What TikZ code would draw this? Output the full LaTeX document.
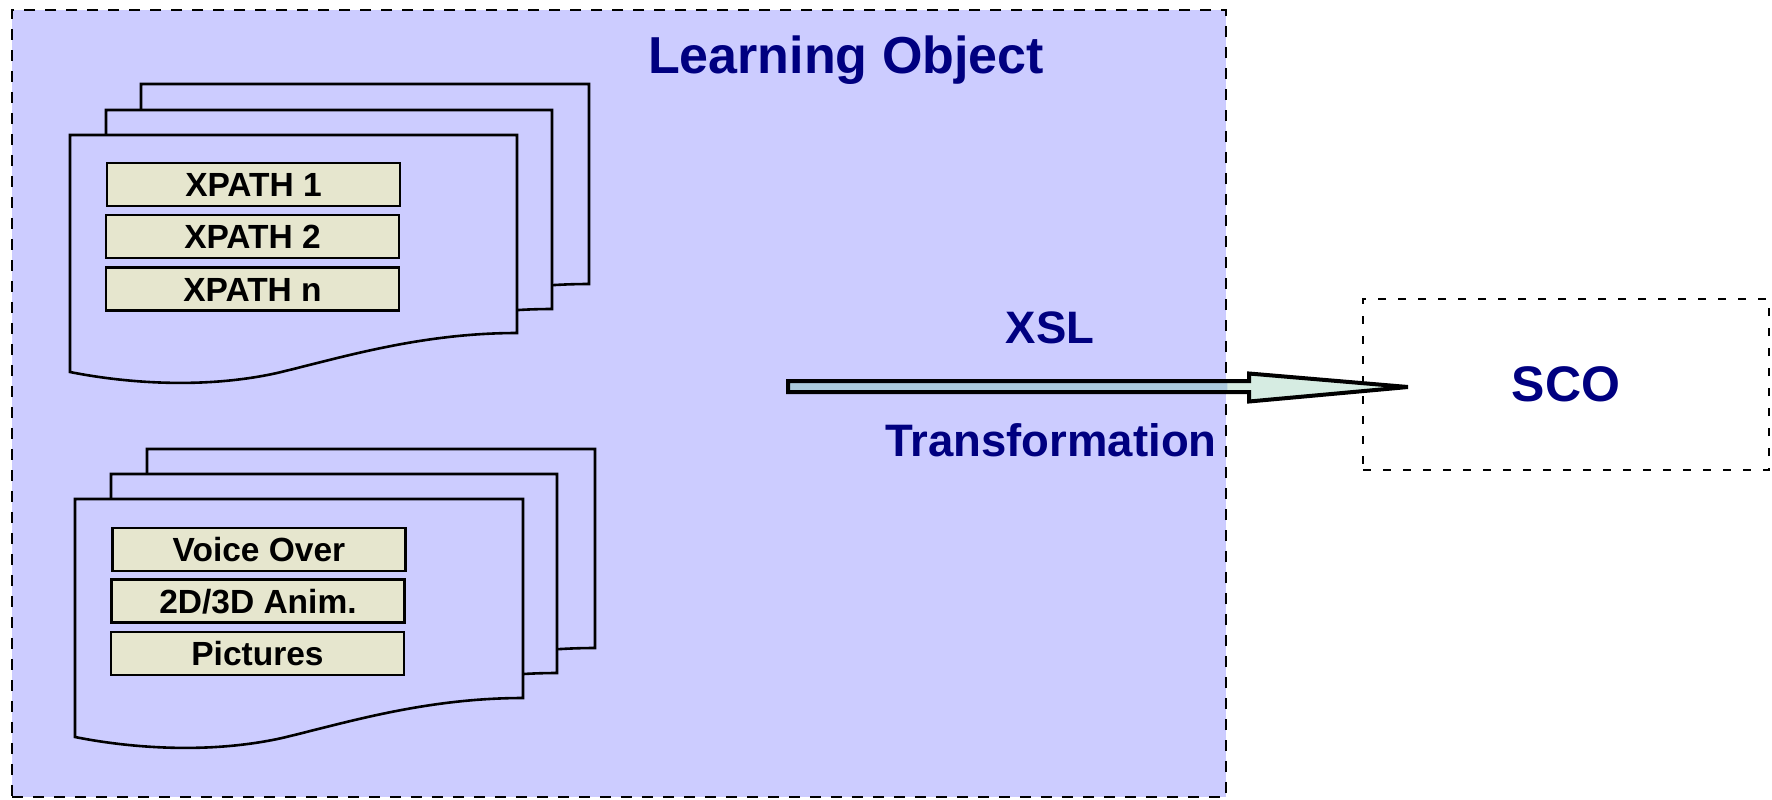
\documentclass[tikz,border=0pt]{standalone}
\usepackage{fontspec}
\setmainfont{Liberation Sans}
\definecolor{lav}{RGB}{204,204,255}
\definecolor{beige}{RGB}{230,230,206}
\definecolor{navy}{RGB}{0,0,128}
\definecolor{arrowin}{RGB}{172,202,220}
\definecolor{arrowout}{RGB}{214,236,226}
\newcommand\docpg[4]{%
  \filldraw[page] (#1,#2) -- (#3,#2) -- (#3,#4)
    .. controls ({#1+350},{#4}) and ({#1+270},{#4+25}) .. ({#1+207},{#4+40})
    .. controls ({#1+130},{#4+57}) and ({#1+50},{#4+49}) .. (#1,{#4+39}) -- cycle;}
\begin{document}
\begin{tikzpicture}[x=0.5pt,y=-0.5pt,
  page/.style={fill=lav,draw=black,line width=1.3pt,line join=miter},
  itembox/.style={draw=black,fill=beige,line width=1.35pt,minimum width=146.5pt,minimum height=21.5pt,
     inner sep=0pt,text height=12pt,text depth=0pt,font=\fontsize{16.75}{20}\selectfont\bfseries},
  outerbox/.style={draw=black,line width=1.35pt,dash pattern=on 5.5pt off 5pt},
  scobox/.style={draw=black,line width=1.05pt,dash pattern=on 4.2pt off 5.8pt},
  navytxt/.style={text=navy,font=\fontsize{22.75}{27}\selectfont\bfseries,inner sep=0pt},
  arrowline/.style={draw=black,line width=2pt,line join=miter,miter limit=10}]
\useasboundingbox (0,0) rectangle (1772,799);
% outer container
\node[outerbox,fill=lav,minimum width=607pt,minimum height=393.5pt,inner sep=0pt] (lo) at (619,403.5) {};
\node[navytxt,font=\fontsize{26}{30}\selectfont\bfseries,anchor=base] (title) at (846,73) {Learning Object};
% top stack
\docpg{141}{84}{589}{284}
\docpg{106}{110}{552}{309}
\docpg{70}{135}{517}{333}
\node[itembox] (x1) at (253.5,184.5) {XPATH 1};
\node[itembox] (x2) at (252.5,236.5) {XPATH 2};
\node[itembox] (xn) at (252.5,289) {XPATH n};
% bottom stack
\docpg{147}{449}{595}{648}
\docpg{111}{474}{557}{673}
\docpg{75}{499}{523}{698}
\node[itembox] (vo) at (259,549.5) {Voice Over};
\node[itembox] (an) at (258,601) {2D/3D Anim.};
\node[itembox] (pi) at (257.5,653.5) {Pictures};
% SCO
\node[scobox,minimum width=203pt,minimum height=85.5pt,inner sep=0pt,text=navy,
      font=\fontsize{25}{30}\selectfont\bfseries] (sco) at (1566,384.5) {SCO};
% arrow
\coordinate (as) at (788,386.5);
\coordinate (at) at (1408,387);
\fill[arrowout] (as |- 0,381) -- (1249,381) -- (1249,373.5) -- (at) -- (1249,401.5) -- (1249,392) -- (as |- 0,392) -- cycle;
\begin{scope}
  \clip (lo.north west) rectangle (lo.south east);
  \fill[arrowin] (as |- 0,381) -- (1249,381) -- (1249,373.5) -- (at) -- (1249,401.5) -- (1249,392) -- (as |- 0,392) -- cycle;
\end{scope}
\draw[arrowline] (as |- 0,381) -- (1249,381) -- (1249,373.5) -- (at) -- (1249,401.5) -- (1249,392) -- (as |- 0,392) -- cycle;
\node[navytxt,anchor=base] (xsl) at (1050,343) {XSL};
\node[navytxt,anchor=base] (tr) at (1051,456) {Transformation};
\end{tikzpicture}
\end{document}
